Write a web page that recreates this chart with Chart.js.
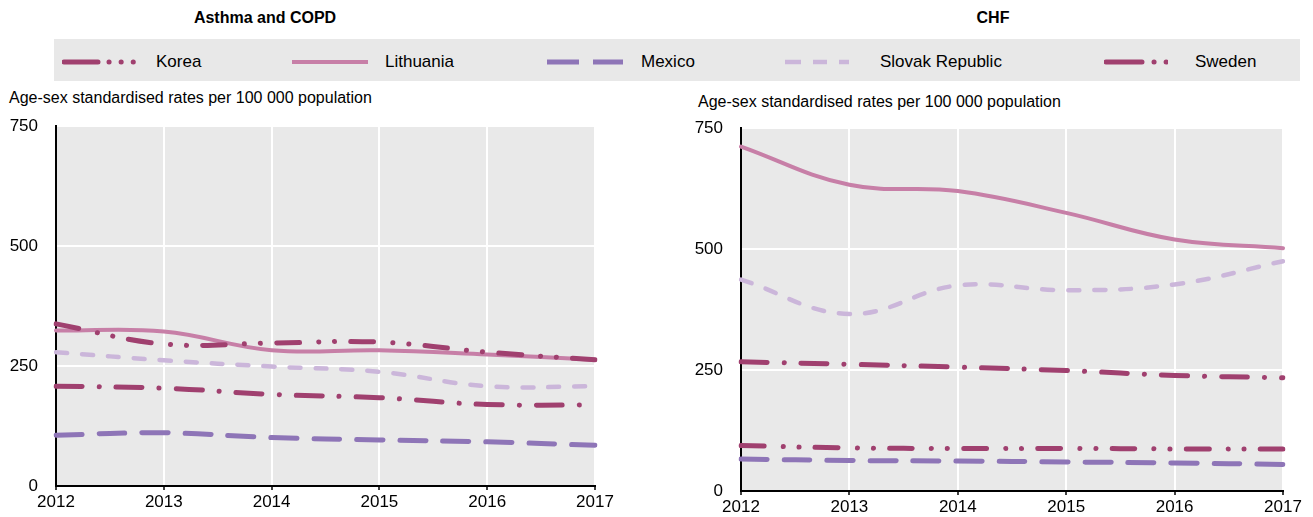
<!DOCTYPE html>
<html>
<head>
<meta charset="utf-8">
<script src="https://cdn.jsdelivr.net/npm/chart.js@4"></script>
<style>
    body { margin: 0; background: #fff; font-family: "Liberation Sans", Arial, sans-serif; }
    #pagina { position: relative; width: 1313px; height: 517px; overflow: hidden; }
    .titulo { position: absolute; top: 9px; font-weight: bold; font-size: 16px; color: #000; transform: translateX(-50%); white-space: nowrap; }
    .eixoTitulo { position: absolute; font-size: 16px; color: #000; white-space: nowrap; }
    #legenda { position: absolute; left: 54px; top: 39px; width: 1246px; height: 42px; background: #e8e8e8; }
    .item { position: absolute; top: 0; height: 42px; }
    .item svg { position: absolute; top: 19px; }
    .item span { position: absolute; top: 13px; font-size: 17px; color: #000; white-space: nowrap; }
    canvas { position: absolute; }
</style>
</head>
<body>
<div id="pagina">
    <div class="titulo" style="left:265px">Asthma and COPD</div>
    <div class="titulo" style="left:993px">CHF</div>

    <div id="legenda"></div>

    <div class="eixoTitulo" style="left:9px; top:89px">Age-sex standardised rates per 100 000 population</div>
    <div class="eixoTitulo" style="left:698px; top:93px">Age-sex standardised rates per 100 000 population</div>

    <canvas id="graficoAsma" width="620" height="419" style="left:0px; top:98px"></canvas>
    <canvas id="graficoChf" width="633" height="421" style="left:680px; top:100px"></canvas>
</div>

<script>
// dados

const anos = ['2012', '2013', '2014', '2015', '2016', '2017']
const paises = ['Korea', 'Lithuania', 'Mexico', 'Slovak Republic', 'Sweden']
const ticksY = [0, 250, 500, 750]

// Asthma and COPD
const asmaKorea = [338, 296, 298, 300, 279, 263]
const asmaLithuania = [324, 322, 283, 283, 274, 263]
const asmaMexico = [106, 111, 101, 96, 92, 85]
const asmaSlovak = [279, 262, 249, 238, 208, 208]
const asmaSweden = [208, 204, 191, 184, 170, 169]

// CHF
const chfKorea = [94, 89, 88, 88, 87, 87]
const chfLithuania = [712, 633, 620, 575, 520, 502]
const chfMexico = [66, 63, 62, 60, 58, 55]
const chfSlovak = [437, 366, 425, 415, 427, 475]
const chfSweden = [267, 262, 256, 249, 239, 234]

// estilos das linhas
const estilos = {
    'Korea': { cor: '#a0406f', largura: 5, traco: [23, 19, 0.1, 16, 0.1, 16], legenda: '34 11 0.1 12 0.1 12 0.1 40' },
    'Lithuania': { cor: '#c77fa7', largura: 4, traco: [], legenda: '' },
    'Mexico': { cor: '#8e75b7', largura: 5, traco: [26, 17], legenda: '32 14 30 40' },
    'Slovak Republic': { cor: '#cbb6da', largura: 4.5, traco: [11, 15], legenda: '16 12 14 12 10 40' },
    'Sweden': { cor: '#a0406f', largura: 5, traco: [26, 17, 0.1, 17], legenda: '36 12 0.1 12 0.1 40' }
}

// legenda
const posLegenda = [
    { linha: 8, largura: 92, texto: 102 },
    { linha: 238, largura: 76, texto: 331 },
    { linha: 493, largura: 80, texto: 587 },
    { linha: 731, largura: 72, texto: 826 },
    { linha: 1050, largura: 64, texto: 1141 }
]

function legenda() {
    let txt = ``
    for (let i = 0; i < paises.length; i++) {
        let e = estilos[paises[i]]
        let p = posLegenda[i]
        let dash = e.legenda ? `stroke-dasharray="${e.legenda}"` : ''
        let cap = paises[i] == 'Korea' || paises[i] == 'Sweden' ? 'round' : 'butt'
        txt = txt + `
        <div class="item" style="left:${p.linha}px">
            <svg width="${p.largura}" height="8"><line x1="${cap == 'round' ? 2 : 0}" y1="4" x2="${p.largura}" y2="4"
                stroke="${e.cor}" stroke-width="${e.largura}" stroke-linecap="${cap}" ${dash}/></svg>
        </div>
        <div class="item" style="left:${p.texto}px"><span>${paises[i]}</span></div>
        `
    }
    document.getElementById('legenda').innerHTML = txt
}

// fundo cinza da area do grafico
const fundoPlugin = {
    id: 'fundo',
    beforeDraw(chart) {
        const a = chart.chartArea
        const c = chart.ctx
        c.save()
        c.fillStyle = '#e9e9e9'
        c.fillRect(a.left, a.top, a.right - a.left, a.bottom - a.top)
        c.restore()
    }
}

function montaDatasets(series) {
    return paises.map((p, i) => {
        let e = estilos[p]
        return {
            label: p,
            data: series[i],
            borderColor: e.cor,
            borderWidth: e.largura,
            borderDash: e.traco,
            borderCapStyle: 'round',
            pointRadius: 0,
            tension: 0.4,
            fill: false
        }
    })
}

function grafico(id, series, larguraY, alturaX, padding) {
    return new Chart(document.getElementById(id), {
        type: 'line',
        data: {
            labels: anos,
            datasets: montaDatasets(series)
        },
        options: {
            responsive: false,
            animation: false,
            devicePixelRatio: 1,
            layout: { padding: padding },
            plugins: {
                legend: { display: false },
                tooltip: { enabled: false },
                title: { display: false }
            },
            scales: {
                x: {
                    offset: false,
                    grid: { color: '#ffffff', lineWidth: 2, drawTicks: true, tickLength: 4, tickColor: '#000000', tickWidth: 1.5 },
                    border: { color: '#000000', width: 2 },
                    ticks: {
                        color: '#000', autoSkip: false, maxRotation: 0, padding: 2,
                        font: { family: '"Liberation Sans Narrow", "Liberation Sans", Arial', size: 17 }
                    },
                    afterFit: (s) => { s.height = alturaX }
                },
                y: {
                    min: 0,
                    max: 750,
                    afterBuildTicks: (s) => { s.ticks = ticksY.map(v => ({ value: v })) },
                    grid: { color: '#ffffff', lineWidth: 2, drawTicks: false },
                    border: { color: '#000000', width: 2 },
                    ticks: {
                        color: '#000', padding: 18,
                        font: { family: '"Liberation Sans Narrow", "Liberation Sans", Arial', size: 17 }
                    },
                    afterFit: (s) => { s.width = larguraY }
                }
            }
        },
        plugins: [fundoPlugin]
    })
}

window.onload = () => {
    legenda()
    grafico('graficoAsma',
        [asmaKorea, asmaLithuania, asmaMexico, asmaSlovak, asmaSweden],
        56, 31, { top: 8, right: 25, left: 0, bottom: 0 })
    grafico('graficoChf',
        [chfKorea, chfLithuania, chfMexico, chfSlovak, chfSweden],
        61, 30, { top: 10, right: 30, left: 0, bottom: 0 })
}
</script>
</body>
</html>
